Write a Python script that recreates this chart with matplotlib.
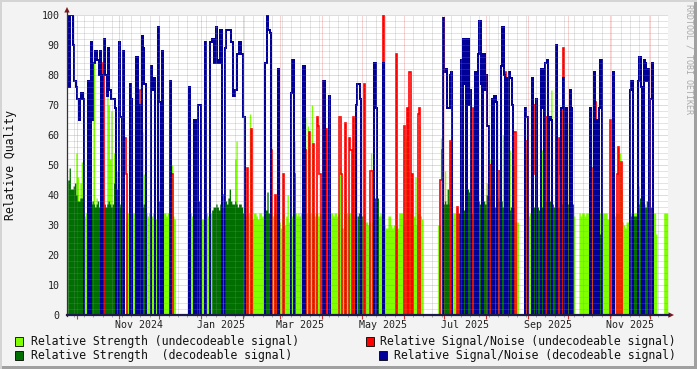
import numpy as np
import matplotlib
matplotlib.use("Agg")
import matplotlib.pyplot as plt
from matplotlib.lines import Line2D
from matplotlib.patches import Polygon, Rectangle

# daily values, index 0 = 2024-09-24 (0 = no value)
str_undec = [
    0, 0, 0, 0, 0, 0, 54, 46, 0, 44,
    51, 0, 33, 34, 33, 0, 0, 0, 0, 86,
    0, 39, 0, 0, 0, 0, 0, 0, 0, 75,
    70, 52, 68, 0, 54, 52, 48, 0, 0, 0,
    0, 35, 0, 31, 34, 34, 33, 34, 34, 34,
    33, 34, 34, 33, 0, 61, 47, 0, 34, 33,
    34, 34, 33, 34, 34, 32, 34, 0, 0, 0,
    0, 34, 34, 33, 34, 34, 34, 50, 33, 32,
    0, 0, 0, 0, 0, 0, 0, 0, 0, 0,
    34, 34, 33, 34, 30, 29, 31, 33, 44, 32,
    32, 33, 34, 34, 33, 34, 34, 0, 0, 0,
    0, 0, 0, 0, 0, 0, 0, 0, 0, 0,
    0, 0, 0, 0, 52, 58, 0, 0, 0, 0,
    0, 33, 33, 33, 34, 67, 33, 32, 34, 34,
    33, 32, 34, 34, 33, 33, 0, 0, 0, 0,
    0, 34, 33, 34, 34, 33, 34, 31, 29, 32,
    34, 30, 33, 40, 31, 34, 33, 34, 58, 34,
    33, 34, 33, 34, 33, 34, 66, 34, 63, 33,
    34, 70, 34, 33, 34, 34, 33, 34, 33, 30,
    30, 30, 31, 34, 33, 34, 34, 33, 34, 34,
    33, 34, 49, 29, 29, 34, 39, 34, 33, 34,
    34, 34, 33, 51, 34, 0, 0, 0, 0, 33,
    34, 31, 31, 30, 31, 54, 31, 33, 33, 53,
    33, 33, 34, 33, 33, 30, 29, 29, 33, 33,
    30, 29, 30, 29, 30, 29, 34, 34, 34, 30,
    31, 59, 33, 49, 34, 32, 30, 33, 46, 30,
    34, 63, 33, 32, 0, 0, 0, 0, 0, 0,
    0, 0, 0, 0, 0, 30, 30, 59, 50, 0,
    48, 0, 0, 0, 34, 67, 34, 34, 34, 34,
    0, 0, 0, 0, 0, 73, 0, 0, 0, 0,
    0, 34, 0, 0, 0, 0, 0, 0, 0, 0,
    0, 44, 57, 52, 44, 0, 0, 0, 0, 0,
    0, 0, 0, 60, 0, 0, 0, 0, 55, 0,
    0, 50, 31, 31, 31, 0, 0, 0, 0, 0,
    54, 34, 33, 34, 33, 0, 0, 51, 0, 0,
    0, 0, 55, 0, 0, 0, 0, 0, 0, 75,
    0, 0, 0, 0, 0, 0, 0, 0, 75, 0,
    0, 0, 64, 0, 46, 0, 33, 0, 0, 0,
    34, 33, 34, 34, 33, 34, 34, 33, 55, 34,
    34, 34, 33, 34, 34, 34, 42, 34, 34, 34,
    34, 32, 32, 34, 34, 34, 33, 34, 34, 34,
    54, 42, 31, 30, 29, 31, 31, 34, 34, 34,
    34, 34, 34, 0, 43, 0, 67, 0, 0, 0,
    0, 0, 0, 0, 0, 34, 34, 27, 0, 0,
    0, 0, 0, 34, 34, 34, 0,
]

str_dec = [
    45, 49, 42, 42, 43, 44, 40, 38, 38, 39,
    39, 38, 0, 0, 0, 36, 36, 37, 38, 37,
    36, 37, 38, 36, 35, 36, 36, 37, 36, 37,
    38, 37, 36, 37, 44, 44, 42, 37, 37, 36,
    35, 0, 0, 0, 0, 0, 0, 0, 0, 0,
    0, 0, 0, 0, 36, 36, 37, 36, 0, 0,
    0, 0, 0, 0, 0, 0, 0, 38, 38, 37,
    38, 0, 0, 0, 0, 0, 0, 0, 0, 0,
    0, 0, 0, 0, 0, 0, 0, 0, 0, 0,
    0, 0, 0, 0, 0, 0, 0, 38, 38, 0,
    0, 0, 0, 0, 0, 0, 0, 35, 36, 36,
    37, 36, 35, 37, 36, 36, 37, 38, 37, 39,
    42, 38, 37, 37, 38, 37, 36, 37, 37, 36,
    34, 0, 0, 0, 0, 0, 0, 0, 0, 0,
    0, 0, 0, 0, 0, 0, 34, 35, 41, 34,
    34, 0, 0, 0, 0, 0, 0, 0, 0, 0,
    0, 0, 0, 0, 0, 0, 0, 0, 0, 0,
    0, 0, 0, 0, 0, 0, 0, 0, 0, 0,
    0, 0, 0, 0, 0, 0, 0, 0, 0, 0,
    0, 0, 0, 0, 0, 0, 0, 0, 0, 0,
    0, 0, 0, 0, 0, 0, 0, 0, 0, 0,
    0, 0, 0, 0, 0, 33, 34, 34, 33, 0,
    0, 0, 0, 0, 0, 0, 0, 0, 39, 39,
    39, 0, 0, 0, 0, 0, 0, 0, 0, 0,
    0, 0, 0, 0, 0, 0, 0, 0, 0, 0,
    0, 0, 0, 0, 0, 0, 0, 0, 0, 0,
    0, 0, 0, 0, 0, 0, 0, 0, 0, 0,
    0, 0, 0, 0, 0, 0, 0, 0, 0, 37,
    38, 37, 42, 37, 0, 0, 0, 0, 0, 0,
    34, 34, 35, 34, 35, 34, 34, 42, 41, 42,
    34, 0, 38, 36, 40, 38, 37, 38, 39, 38,
    37, 40, 40, 40, 39, 38, 37, 36, 38, 39,
    38, 37, 38, 36, 38, 36, 36, 37, 35, 36,
    37, 36, 0, 0, 0, 0, 0, 0, 0, 0,
    0, 0, 0, 0, 0, 35, 36, 35, 34, 36,
    35, 37, 36, 35, 36, 38, 39, 37, 38, 38,
    37, 36, 36, 36, 36, 36, 36, 37, 37, 37,
    37, 37, 37, 37, 37, 37, 0, 0, 0, 0,
    0, 0, 0, 0, 0, 0, 0, 0, 0, 0,
    0, 0, 0, 0, 0, 27, 0, 0, 0, 0,
    0, 0, 0, 0, 0, 0, 0, 0, 0, 0,
    0, 0, 0, 0, 0, 0, 0, 0, 33, 33,
    33, 33, 33, 36, 37, 39, 36, 41, 37, 36,
    38, 38, 38, 36, 36, 0, 0, 0, 0, 0,
    0, 0, 0, 0, 0, 0, 0,
]

# signal/noise, only the days that have a value
snr_dec_days = [
    0, 1, 2, 3, 4, 5, 6, 7, 8, 9, 10, 11,
    15, 17, 18, 19, 20, 21, 22, 23, 24, 26, 27, 28, 29, 30, 31, 32, 33, 34, 35,
    38, 39, 41, 46, 47, 51, 53, 55, 56, 57, 62, 63, 64, 67, 68, 70, 76,
    90, 94, 97, 98, 102, 106, 107, 108, 109, 110, 111, 112, 113, 114, 117, 118,
    119, 120, 121, 122, 123, 124, 125, 126, 127, 128, 129, 130, 131,
    147, 148, 149, 150,
    156, 166, 167, 175, 190, 194, 214, 215, 216, 217,
    228, 229, 234, 279, 280, 281, 282, 283, 284, 285, 292, 294, 295, 297, 298, 299,
    303, 305, 306, 307, 309, 310, 311, 312, 315, 317, 318, 322, 323, 324, 326,
    328, 329, 330, 340, 341, 345, 348, 352, 353, 355, 356, 358, 359, 363, 367,
    368, 370, 373, 374,
    388, 391, 393, 395, 396, 405, 418, 419, 424, 425, 426, 428, 429, 430, 431,
    433, 434,
]
snr_dec_vals = [
    100, 76, 100, 100, 90, 78, 76, 72, 65, 72, 74, 72,
    78, 91, 65, 84, 88, 88, 85, 80, 88, 80, 92, 80, 73, 89, 75, 72, 72, 72, 69,
    91, 66, 88, 77, 72, 86, 70, 93, 89, 77, 83, 75, 79, 96, 71, 88, 78,
    76, 65, 70, 70, 91, 91, 92, 92, 84, 96, 85, 84, 95, 95, 89, 95,
    95, 95, 91, 91, 73, 75, 75, 87, 91, 91, 87, 66, 66,
    84, 100, 95, 94,
    82, 74, 85, 83, 78, 73, 70, 77, 77, 72,
    84, 69, 84, 99, 81, 82, 69, 69, 80, 81, 85, 92, 77, 92, 70, 75,
    81, 87, 98, 77, 87, 75, 80, 63, 72, 73, 71, 83, 96, 80, 79,
    81, 79, 70, 69, 66, 79, 72, 82, 69, 84, 85, 66, 65, 90, 69,
    79, 69, 75, 69,
    69, 81, 65, 69, 85, 81, 75, 78, 78, 86, 76, 85, 84, 78, 82,
    72, 84,
]

snr_undec_days = [
    26, 42, 43, 52, 54, 77, 116, 133, 136,
    151, 154, 160, 168, 176, 179, 182, 185, 186, 187, 192, 202, 203, 206, 209,
    210, 212, 220, 225, 226,
    234, 244, 250, 252, 254, 256, 260, 261, 277, 278, 284, 289, 301,
    314, 320, 325, 332, 341, 346, 347, 354, 355, 365, 366, 368,
    389, 392, 403, 408, 409, 411,
]
snr_undec_vals = [
    84, 59, 47, 47, 75, 47, 40, 49, 62,
    55, 40, 47, 47, 55, 61, 57, 66, 63, 47, 62, 66, 47, 64, 59,
    55, 66, 77, 48, 48,
    100, 87, 63, 69, 81, 47, 67, 69, 45, 55, 58, 36, 69,
    50, 48, 81, 61, 58, 70, 47, 74, 66, 59, 47, 89,
    49, 71, 65, 47, 56, 51,
]

start = np.datetime64("2024-09-23")
first_day = 1  # data starts the day after `start`

W, H = 697, 369
plt.rcParams["font.family"] = "DejaVu Sans Mono"

fig = plt.figure(figsize=(W / 100, H / 100), dpi=100, facecolor="#F3F3F3")


def fx(px):
    return px / W


def fy(py):
    return 1 - py / H


ax = fig.add_axes([fx(67), fy(315), (668 - 67) / W, 300 / H])
ax.set_facecolor("white")

n = len(str_undec)
xe = np.arange(n + 1) + first_day


def stepped(vals):
    v = np.asarray(vals, dtype=float)
    return np.append(v, v[-1])


def full(days, vals):
    arr = np.zeros(n)
    arr[days] = vals
    return arr


ax.fill_between(xe, stepped(str_undec), step="post", color="#7FFF00", lw=0, zorder=1)
ax.fill_between(xe, stepped(str_dec), step="post", color="#006E00", lw=0, zorder=2)
ax.step(xe, stepped(full(snr_undec_days, snr_undec_vals)), where="post",
        color="#FF0000", lw=1.2, solid_joinstyle="miter", zorder=3)
ax.step(xe, stepped(full(snr_dec_days, snr_dec_vals)), where="post",
        color="#000099", lw=1.45, solid_joinstyle="miter", zorder=4)

ax.set_xlim(0.45, 447.2)
ax.set_ylim(0, 100)

# grid on top of the data, rrdtool style
minor_c = (0.55, 0.55, 0.55, 0.45)
major_c = (0.9, 0.3, 0.3, 0.5)
for y in range(2, 101, 2):
    c = major_c if y % 10 == 0 else minor_c
    ax.axhline(y, color=c, lw=0.72, ls=(0, (1, 1)), zorder=5)

months = np.arange(np.datetime64("2024-10"), np.datetime64("2026-01"), dtype="datetime64[M]")
month_pos = (months.astype("datetime64[D]") - start).astype(int)
weeks = np.arange(np.datetime64("2024-09-29"), np.datetime64("2025-12-15"), 7)
week_pos = (weeks - start).astype(int)
for w in week_pos:
    if w not in month_pos:
        ax.axvline(w, color=minor_c, lw=0.72, ls=(0, (1, 1)), zorder=5)
for m in month_pos:
    ax.axvline(m, color=major_c, lw=0.72, ls=(0, (1, 1)), zorder=5)

for sp in ax.spines.values():
    sp.set_visible(False)

ax.set_xticks(month_pos)
ax.set_xticklabels([])
ax.set_xticks(week_pos, minor=True)
ax.tick_params(axis="x", which="major", direction="out", length=3, width=0.8, color="#CC3333")
ax.tick_params(axis="x", which="minor", direction="out", length=1.5, width=0.6, color="#999999")

ax.set_yticks(range(0, 101, 10))
ax.set_yticklabels([str(v) for v in range(0, 101, 10)], fontsize=7.2, color="#222222")
ax.tick_params(axis="y", direction="in", length=0, pad=5.5)

# month labels every second month, centred on the month
for m, p in zip(months, month_pos):
    d = m.astype(object)
    if d.month % 2 == 1:
        ax.text(p + 15, -0.032, d.strftime("%b %Y"), transform=ax.get_xaxis_transform(),
                ha="center", va="center", fontsize=7.2, color="#222222")

# axis lines with arrows
arrow_col = "#7F1818"
fig.add_artist(Line2D([fx(67), fx(67)], [fy(315.5), fy(11)], color="#333333", lw=0.9))
fig.add_artist(Line2D([fx(66.5), fx(669)], [fy(314.8), fy(314.8)], color="#1C1C48", lw=1.6))
fig.add_artist(Polygon([[fx(64.3), fy(12.5)], [fx(69.7), fy(12.5)], [fx(67), fy(7)]],
                       closed=True, color=arrow_col, lw=0))
fig.add_artist(Polygon([[fx(668.5), fy(312.3)], [fx(668.5), fy(317.7)], [fx(674), fy(315)]],
                       closed=True, color=arrow_col, lw=0))

fig.text(fx(11), fy(165), "Relative Quality", rotation=90, ha="center", va="center",
         fontsize=8.3, color="#111111")
fig.text(fx(688.5), fy(4), "RRDTOOL / TOBI OETIKER", rotation=270, ha="center", va="top",
         fontsize=6, color="#AAAAAA")

# legend
legend_rows = [
    (15, 341.5, "#7FFF00", 30.7, "Relative Strength (undecodeable signal)"),
    (365.7, 341.5, "#FF0000", 380, "Relative Signal/Noise (undecodeable signal)"),
    (15, 355, "#006E00", 30.7, "Relative Strength  (decodeable signal)"),
    (379.3, 355, "#000099", 394, "Relative Signal/Noise (decodeable signal)"),
]
for bx, by, col, tx, label in legend_rows:
    fig.add_artist(Rectangle((fx(bx), fy(by + 4.5)), 8 / W, 9 / H, transform=fig.transFigure,
                             facecolor=col, edgecolor="black", lw=0.6))
    fig.text(fx(tx), fy(by), label, ha="left", va="center", fontsize=8.3, color="#111111")

# frame
fig.add_artist(Rectangle((0, fy(369)), fx(697), 3 / H, transform=fig.transFigure,
                         facecolor="#A0A0A0", lw=0))
fig.add_artist(Rectangle((fx(694), 0), 3 / W, 1, transform=fig.transFigure,
                         facecolor="#A0A0A0", lw=0))
fig.add_artist(Rectangle((0, fy(2)), 1, 2 / H, transform=fig.transFigure,
                         facecolor="#D4D4D4", lw=0))
fig.add_artist(Rectangle((0, 0), 2 / W, 1, transform=fig.transFigure,
                         facecolor="#D4D4D4", lw=0))

fig.savefig("out.png", dpi=100, facecolor=fig.get_facecolor())
